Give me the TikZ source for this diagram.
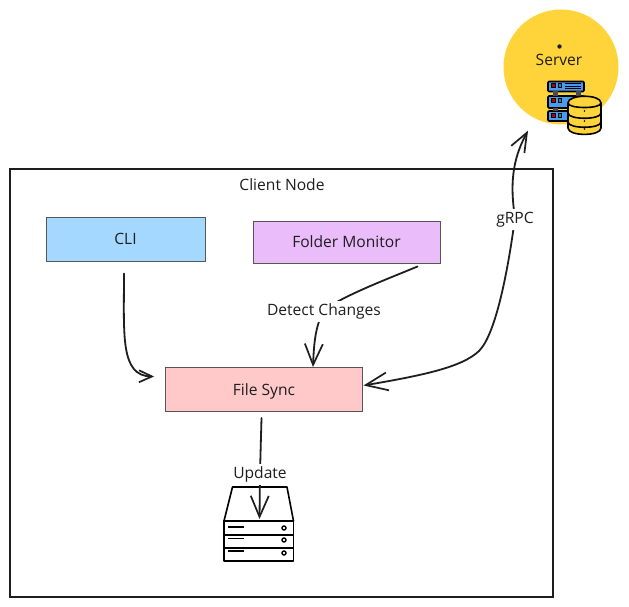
\documentclass[tikz,border=0pt]{standalone}
\usepackage{fontspec}
\setmainfont{Open Sans}
\usetikzlibrary{arrows.meta,calc}
\definecolor{ink}{HTML}{1E1E1E}
\definecolor{cliblue}{HTML}{A5D8FF}
\definecolor{monpurple}{HTML}{EBBCFA}
\definecolor{syncpink}{HTML}{FFC9C9}
\definecolor{srvyellow}{HTML}{FFD43B}
\definecolor{iconblue}{HTML}{4A9BF0}
\tikzset{
  x=1pt,y=-1pt,
  txt/.style={font=\fontsize{15.6}{18}\selectfont,text=ink,inner sep=1.5pt},
  box/.style={txt,draw=ink!75,line width=1pt,anchor=north west},
  lab/.style={txt,fill=white,inner sep=2.5pt,yshift=-1.5pt},
  conn/.style={draw=ink,line width=1.8pt,line cap=round,line join=round},
  tiplong/.style={-{Straight Barb[length=21pt,width=18pt,line width=1.7pt]}},
  tipshort/.style={-{Straight Barb[length=13pt,width=12pt,line width=1.7pt]}},
  bothtip/.style={{Straight Barb[length=22pt,width=18pt,line width=1.7pt]}-{Straight Barb[length=19pt,width=15pt,line width=1.7pt]}},
  icon/.style={draw=black,line width=1.6pt,line join=round},
  tank/.style={icon,fill=srvyellow},
  unit/.style={icon,fill=iconblue,rounded corners=1pt}
}
\begin{document}
\begin{tikzpicture}
\useasboundingbox (0,0) rectangle (629,607);
\fill[white] (0,0) rectangle (629,607);
% server
\node[circle,fill=srvyellow,minimum size=115pt,inner sep=0pt] (server) at (561,67) {};
\node[txt] (servertext) at (559,60) {Server};
\node[circle,fill=ink,inner sep=0pt,minimum size=4.4pt] (serverdot) at (559.5,46.5) {};
% server icon
\draw[unit] (548,81.5) rectangle (584,91.5);
\draw[unit] (548,96) rectangle (584,108);
\draw[unit] (548,111) rectangle (572,121);
\fill[black!70] (553,91.5) rectangle (558,96);
\fill[black!70] (576,91.5) rectangle (581,96);
\fill[black!70] (553,108) rectangle (558,111);
\foreach \yy in {83.5,98.5,113}{
  \fill[black] (551,\yy) rectangle (555.5,\yy+5);
  \fill[black] (557.5,\yy) rectangle (562,\yy+5);
  \fill[red!70!black] (552,\yy+1) rectangle (554.5,\yy+4);
  \fill[teal!80!cyan] (558.5,\yy+1) rectangle (561,\yy+4);
}
\draw[black,line width=1pt] (565,84) -- (581,84) (565,86.5) -- (581,86.5) (565,89) -- (581,89);
% database
\path[tank] (568,103) -- (568,128) .. controls (568,136.5) and (601,136.5) .. (601,128) -- (601,103) -- cycle;
\path[tank] (568,103) .. controls (568,94) and (601,94) .. (601,103) .. controls (601,109) and (568,109) .. (568,103) -- cycle;
\draw[icon] (568,113) .. controls (568,120) and (601,120) .. (601,113);
\draw[icon] (568,122) .. controls (568,129) and (601,129) .. (601,122);
\foreach \yy in {111,121,129}{\fill[black] (584.5,\yy) circle (0.9pt);}
% client container
\node[draw=ink,line width=2pt,anchor=north west,minimum width=543pt,minimum height=428pt,inner sep=0pt,outer sep=0pt] (client) at (10,169) {};
\node[txt] (clienttitle) at (282,185) {Client Node};
% boxes
\node[box,fill=cliblue,minimum width=159pt,minimum height=44pt] (cli) at (45.5,216.5) {CLI};
\node[box,fill=monpurple,minimum width=187pt,minimum height=42pt] (monitor) at (252.5,220.5) {Folder Monitor};
\node[box,fill=syncpink,minimum width=197pt,minimum height=44pt,text height=15.7pt,text depth=3.3pt] (sync) at (165,367) {File Sync};
% storage
\node[inner sep=0pt,minimum width=70pt,minimum height=40pt,anchor=north west] (store) at (224,521) {};
\draw[icon,fill=white] (224,521) -- (232.5,487) -- (287,487) -- (293.5,521) -- cycle;
\draw[icon,fill=white] (224,521) rectangle (293.5,561);
\draw[icon] (224,535) -- (293.5,535) (224,548) -- (293.5,548);
\draw[black,line width=1.8pt] (228,527) -- (244,527) (228,538.5) -- (244,538.5) (228,551) -- (244,551);
\foreach \yy in {528,540,553}{\draw[black,line width=1.4pt] (284,\yy) circle (2pt);}
% connectors
\draw[conn,tipshort] ($(cli.south)+(-1.5,12)$) .. controls (124,335) and (120,376) .. ($(sync.west)+(-11,-13)$);
\draw[conn,tiplong] ($(monitor.south)+(71,3)$) .. controls (385,280) and (345,295) .. (324,310) node[lab] (detect) {Detect Changes} .. controls (316,325) and (314,340) .. (313,367);
\draw[conn,bothtip] ($(sync.east)+(0.5,-4)$) .. controls (425,375) and (462,367) .. (479,351) .. controls (496,334) and (508,270) .. (515,218) node[lab] (grpc) {gRPC} .. controls (510,185) and (512,160) .. ($(server.south)+(-33,6)$);
\draw[conn,tiplong] ($(sync.south)+(-2.5,6)$) -- (260,473) node[lab] (update) {Update} -- (259.5,519);
\end{tikzpicture}
\end{document}
